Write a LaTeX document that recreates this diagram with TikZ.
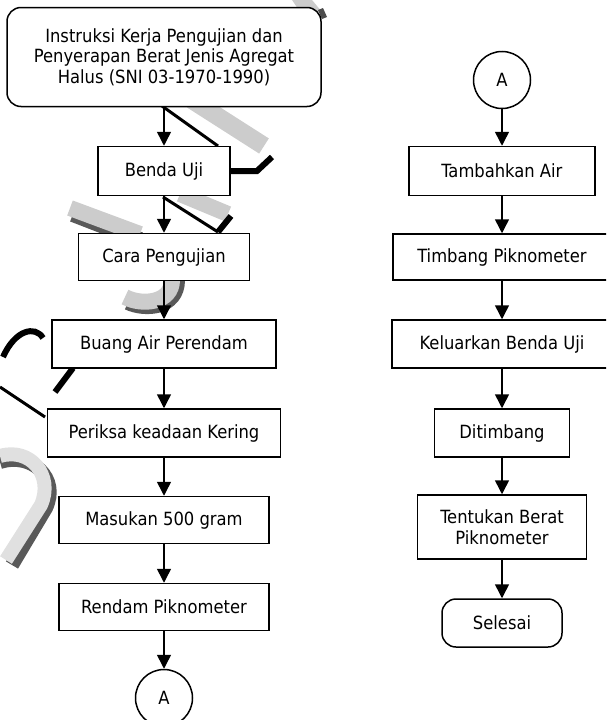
\documentclass[tikz,border=0pt]{standalone}
\usepackage{fontspec}
\setmainfont{DejaVu Sans Condensed}
\usetikzlibrary{arrows.meta}

\begin{document}
\begin{tikzpicture}[x=1pt, y=-1pt,
    kotak/.style={draw, fill=white, line width=1.5pt, align=center, inner sep=0pt,
        font=\fontsize{18.2}{20.5}\selectfont},
    bulat/.style={kotak, rounded corners=14pt},
    konektor/.style={kotak, circle, minimum size=57pt},
    panah/.style={-{Triangle[width=14pt,length=14pt]}, line width=1.5pt},
    pita/.style={black!20, line width=18pt},
    bayang/.style={black!65, line width=18pt},
    garis/.style={black, line width=6pt}]
    \useasboundingbox (0,0) rectangle (606,720);
    \clip (0,0) rectangle (606,720);

    % watermark
    \fill[black!20] (292,0) -- (312,0) -- (322,12) -- (300,12) -- cycle;
    \fill[black!70] (318,10) -- (323,8) -- (327,17) -- (322,19) -- cycle;
    \draw[pita] (192,100) -- (264,146);
    \draw[black, line width=3pt] (162,106) -- (218,146);
    \draw[garis] (229,171) -- (257,171) -- (272,157);
    \draw[pita, line width=16pt] (180,194) -- (228,214);
    \draw[black, line width=3pt] (163,197) -- (218,232);
    \draw[garis] (218,232) -- (231,216);
    \draw[bayang, line width=16pt] (73,214) -- (140,240);
    \draw[pita, line width=16pt] (70,208) -- (140,234);
    \draw[bayang, line width=16pt] (176,240) -- (177,280) .. controls (177,308) and (145,310) .. (128,302);
    \draw[pita, line width=16pt] (171,240) -- (172,280) .. controls (172,303) and (142,306) .. (125,297);
    \draw[garis] (3,357) .. controls (15,330) and (35,325) .. (43,338);
    \draw[garis] (55,392) -- (73,368);
    \draw[black, line width=3pt] (0,387) -- (45,417);
    \draw[bayang, line width=14pt] (0,462) .. controls (32,452) and (60,478) .. (46,508) -- (12,565);
    \draw[pita, line width=14pt, black!12] (0,456) .. controls (30,447) and (54,475) .. (41,505) -- (6,560);

    % kolom kiri
    \node[bulat, minimum width=314, minimum height=99] (judul) at (164,57)
        {Instruksi Kerja Pengujian dan\\Penyerapan Berat Jenis Agregat\\Halus (SNI 03-1970-1990)};
    \node[kotak, minimum width=132, minimum height=49] (benda) at (164,171) {Benda Uji};
    \node[kotak, minimum width=171, minimum height=47] (cara) at (164,257) {Cara Pengujian};
    \node[kotak, minimum width=224, minimum height=48] (buang) at (164,344) {Buang Air Perendam};
    \node[kotak, minimum width=233, minimum height=48] (periksa) at (164,433) {Periksa keadaan Kering};
    \node[kotak, minimum width=210, minimum height=47] (masukan) at (164,520) {Masukan 500 gram};
    \node[kotak, minimum width=210, minimum height=47] (rendam) at (164,607) {Rendam Piknometer};
    \node[konektor] (konA) at (164,698) {A};

    % kolom kanan
    \node[konektor] (konB) at (502,80) {A};
    \node[kotak, minimum width=186, minimum height=49] (tambah) at (502,171) {Tambahkan Air};
    \node[kotak, minimum width=218, minimum height=46] (timbang) at (502,257) {Timbang Piknometer};
    \node[kotak, minimum width=220, minimum height=48] (keluar) at (502,344) {Keluarkan Benda Uji};
    \node[kotak, minimum width=135, minimum height=48] (ditimbang) at (502,433) {Ditimbang};
    \node[kotak, minimum width=169, minimum height=64] (tentukan) at (502,527) {Tentukan Berat\\Piknometer};
    \node[bulat, minimum width=120, minimum height=48] (selesai) at (502,623) {Selesai};

    \foreach \a/\b in {judul/benda, benda/cara, cara/buang, buang/periksa, periksa/masukan,
        masukan/rendam, rendam/konA, konB/tambah, tambah/timbang, timbang/keluar,
        keluar/ditimbang, ditimbang/tentukan, tentukan/selesai} {
        \draw[panah] (\a) -- (\b);
    }
\end{tikzpicture}
\end{document}
